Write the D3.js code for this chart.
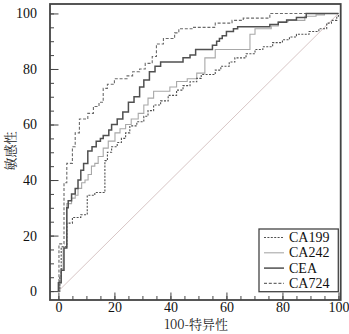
<!DOCTYPE html>
<html><head><meta charset="utf-8">
<script src="https://cdn.jsdelivr.net/npm/d3@7"></script>
<style>html,body{margin:0;padding:0;background:#fff;}svg{display:block;}
.serif{font-family:"Liberation Serif","Tinos","DejaVu Serif","Times New Roman",serif;}
.cjk{font-family:"Noto Serif CJK SC","Noto Sans CJK SC",sans-serif;}
</style>
</head><body>
<svg id="chart" width="349" height="334"></svg>
<script>
// ROC step points: x = 100-specificity where the curve rises, y = sensitivity after the rise
const seriesNames = ["CA199", "CA242", "CEA", "CA724"];
const ca199X = [0,0.5,1,3,5,8,10.3,13,16.6,17.5,19,21,22.5,24,25.5,28,30.5,32,34,36.5,39.2,42.2,44.5,47,49.4,51,56,58,61,63,67,70.2,73,76.5,80,82.5,85,89.5,93,95.8,97.5,99.4,100];
const ca199Y = [0,5,16,24.5,26.5,27.5,34.5,35.5,47,50,52,53.5,55,57,59.5,61,63,65,67,68.5,70.5,72.4,74,75.4,76.6,78,79.6,81,82.5,84,85.5,87,88,89.5,90.5,91.5,92.5,93.5,94.5,96.5,97.5,99,100];
const ca242X = [0,0.5,1,1.7,3,4.7,6,7,8.3,9.5,10.6,11.8,13,14.2,16,17.8,20.2,22,24,26,28.5,30.5,32,34,39.8,42.2,46,49.4,52.3,56,68.4,70.2,76,78.5,82,88,92,95,100];
const ca242Y = [0,3,8,16,31.5,33.5,34.5,37,39,40,42,45,46,48.5,51.5,54,57,58.5,60,62,64,67,69.5,72,73.5,75.5,76.5,78.5,84,87,92.5,94.5,95.5,97,97.5,99,99.5,100,100];
const ceaX = [0,0,1,2,3,3.5,4.7,6,7,8,9,10.5,12,13.5,15,16,18,19,21,23,25,27,29,30.5,32.5,34.5,36.5,44.5,47,49,55,56.5,57.5,58.5,60,62.5,64,75.5,78.5,81.5,85,88.5,100];
const ceaY = [0,3,7.5,15.5,30,32.5,35,37,40,43.5,46,50.5,52,54,55,56,58,60,62,64.5,68,70,73.5,76,79,81,82.5,84,85,87,88.5,90,91,92,93.5,94.5,95.2,96,96.8,97.6,98.5,100,100];
const ca724X = [0,0.2,2,3,5,6,7.5,10.5,12.5,14.5,16,17.5,20,24.5,26.5,29,31,33.5,35,37.5,41.5,43,48,56,62,66,75.5,100];
const ca724Y = [0,17,39,46,52,57,62,64,66.5,68,73,74.5,76.5,77.5,79,80,82,84.5,89,91,93,94.5,95,96.5,97.5,98.3,100,100];
const tickValues = [0,20,40,60,80,100];
const xTitle = "100-特异性";
const yTitle = "敏感性";

const svg = d3.select("#chart");
const x = d3.scaleLinear().domain([-3, 100.8]).range([50, 340.7]);
const y = d3.scaleLinear().domain([-3.2, 103.4]).range([300, 4]);

const styles = {
  CA199: {stroke:"#505050", width:1.1, dash:"2,1.4"},
  CA242: {stroke:"#a8a8a8", width:1.1, dash:null},
  CEA:   {stroke:"#505050", width:1.5, dash:null},
  CA724: {stroke:"#6a6a6a", width:1.1, dash:"3,1.8"}
};
const data = {
  CA199: ca199X.map((v,i)=>[v, ca199Y[i]]),
  CA242: ca242X.map((v,i)=>[v, ca242Y[i]]),
  CEA: ceaX.map((v,i)=>[v, ceaY[i]]),
  CA724: ca724X.map((v,i)=>[v, ca724Y[i]])
};

// diagonal
svg.append("line")
  .attr("x1", x(0)).attr("y1", y(0)).attr("x2", x(100)).attr("y2", y(100))
  .attr("stroke", "#d8c6c6").attr("stroke-width", 1);

const line = d3.line().x(d=>x(d[0])).y(d=>y(d[1])).curve(d3.curveStepAfter);
["CA242","CA199","CA724","CEA"].forEach(k=>{
  const s = styles[k];
  svg.append("path").datum(data[k]).attr("d", line)
    .attr("fill","none").attr("stroke", s.stroke).attr("stroke-width", s.width)
    .attr("stroke-dasharray", s.dash);
});

// axes (ticks inward)
const minor = d3.range(0, 101, 5);
const xAxis = d3.axisBottom(x).tickValues(minor).tickSizeInner(-4).tickSizeOuter(0).tickFormat("");
const yAxis = d3.axisLeft(y).tickValues(minor).tickSizeInner(-4).tickSizeOuter(0).tickFormat("");
const gx = svg.append("g").attr("transform","translate(0,300)").call(xAxis);
const gy = svg.append("g").attr("transform","translate(50,0)").call(yAxis);
const gx2 = svg.append("g").attr("transform","translate(0,300)")
  .call(d3.axisBottom(x).tickValues(tickValues).tickSizeInner(-7.5).tickSizeOuter(0).tickPadding(11));
const gy2 = svg.append("g").attr("transform","translate(50,0)")
  .call(d3.axisLeft(y).tickValues(tickValues).tickSizeInner(-8.5).tickSizeOuter(0).tickPadding(13));
[gx,gy,gx2,gy2].forEach(g=>{
  g.attr("font-family", null).attr("font-size", null);
  g.select(".domain").remove();
  g.selectAll(".tick line").attr("stroke","#444").attr("stroke-width",1);
  g.selectAll("text").attr("class","serif").style("font-size","14px").attr("fill","#111");
});
gx2.selectAll("text").attr("dy", "0.1em");

// frame
svg.append("rect").attr("x",50).attr("y",4).attr("width",290.7).attr("height",296)
  .attr("fill","none").attr("stroke","#444").attr("stroke-width",1.8);

// titles
svg.append("text").attr("class","cjk").attr("x",196).attr("y",329).attr("text-anchor","middle")
  .style("font-size","13px").attr("fill","#222").text(xTitle);
svg.append("text").attr("class","cjk").attr("transform","translate(15,151) rotate(-90)").attr("text-anchor","middle")
  .style("font-size","13px").attr("fill","#222").text(yTitle);

// legend
const lg = svg.append("g");
lg.append("rect").attr("x",259).attr("y",229).attr("width",79.3).attr("height",62.7)
  .attr("fill","#fff").attr("stroke","#444").attr("stroke-width",1.3);
seriesNames.forEach((k,i)=>{
  const by = 242 + i*15.3;
  const s = styles[k];
  lg.append("line").attr("x1",264).attr("x2",284).attr("y1",by-4.5).attr("y2",by-4.5)
    .attr("stroke", s.stroke).attr("stroke-width", s.width).attr("stroke-dasharray", s.dash);
  lg.append("text").attr("class","serif").attr("x",289).attr("y",by).style("font-size","14px")
    .attr("fill","#111").text(k);
});
</script>
</body></html>
